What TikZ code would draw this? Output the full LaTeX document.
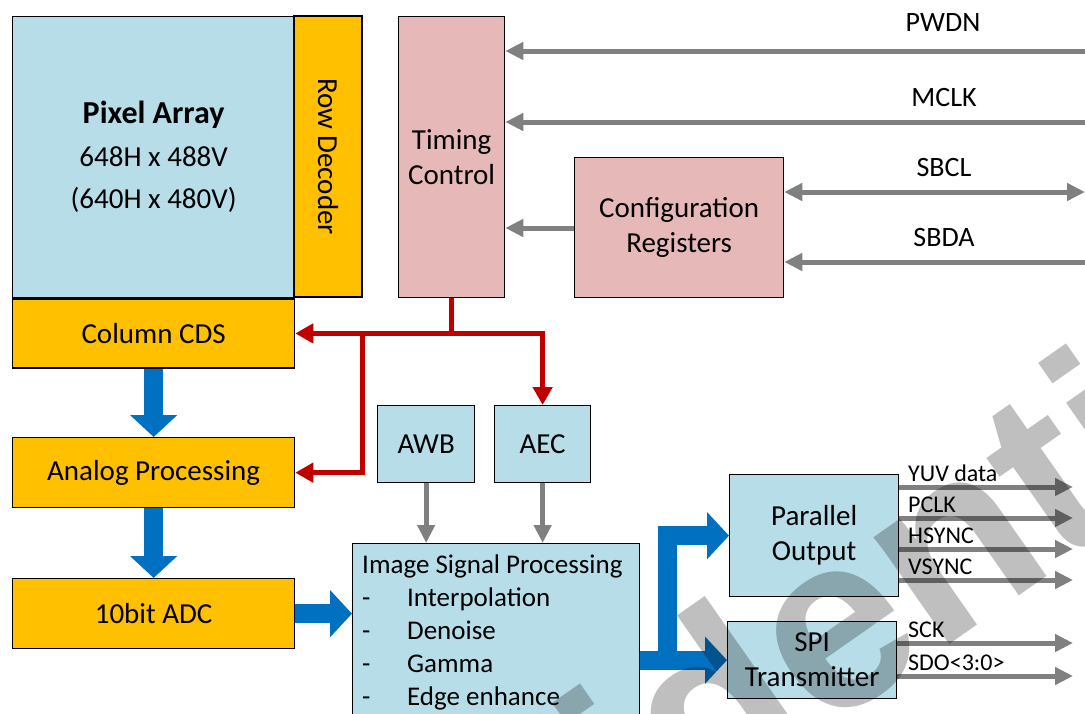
\documentclass[tikz,border=0pt]{standalone}
\usepackage{fontspec}
\setmainfont{Carlito}
\newfontfamily\wmfont{Liberation Sans}
\usetikzlibrary{arrows.meta,positioning}
\definecolor{cellblue}{HTML}{B7DDE8}
\definecolor{cellorange}{HTML}{FFC000}
\definecolor{cellpink}{HTML}{E6B9B8}
\definecolor{ctlred}{HTML}{C00000}
\definecolor{busblue}{HTML}{0070C0}
\definecolor{siggray}{HTML}{808080}
\tikzset{
  gtip/.tip={Triangle[length=18pt,width=17pt]},
  rtip/.tip={Triangle[length=18pt,width=19pt]},
  btip/.tip={Triangle[length=22pt,width=46pt]},
  blk/.style={draw=black, line width=1.3pt, inner sep=0pt, align=center,
    anchor=north west, font=\fontsize{29}{35}\selectfont},
  sig/.style={draw=siggray, line width=5pt, -gtip},
  ctl/.style={draw=ctlred, line width=5pt, -rtip},
  bus/.style={draw=busblue, line width=19pt, -btip},
  hdr/.style={font=\fontsize{28}{32}\selectfont, inner sep=0pt},
  outlbl/.style={font=\fontsize{24}{28}\selectfont, inner sep=0pt, anchor=base west}
}
\begin{document}
\begin{tikzpicture}[x=1pt,y=-1pt]
\useasboundingbox (0,0) rectangle (1085,713);
\clip (0,0) rectangle (1085,713);
% sensor side
\node[blk, fill=cellblue, minimum width=282pt, minimum height=281pt,
  font=\fontsize{29}{42}\selectfont] (pix) at (12,16)
  {{\fontsize{32}{42}\selectfont\textbf{Pixel Array}}\\[1pt]648H x 488V\\(640H x 480V)};
\node[blk, fill=cellorange, anchor=center, rotate=-90, minimum width=281pt,
  minimum height=68pt] (row) at (328,156.5) {Row Decoder};
\node[blk, fill=cellorange, minimum width=282pt, minimum height=69pt] (cds) at (pix.south west) {Column CDS};
\node[blk, fill=cellorange, minimum width=282pt, minimum height=70pt] (ana) at (12,437) {Analog Processing};
\node[blk, fill=cellorange, minimum width=282pt, minimum height=70pt] (adc) at (12,578) {10bit ADC};
% control
\node[blk, fill=cellpink, minimum width=106pt, minimum height=281pt] (tim) at (398,16) {Timing\\Control};
\node[blk, fill=cellpink, minimum width=209pt, minimum height=140pt] (cfg) at (574,157) {Configuration\\Registers};
\node[blk, fill=cellblue, minimum width=97pt, minimum height=77pt] (awb) at (377,405) {AWB};
\node[blk, fill=cellblue, minimum width=96pt, minimum height=77pt] (aec) at (494,405) {AEC};
% processing and outputs
\node[blk, fill=cellblue, minimum width=287pt, minimum height=200pt] (isp) at (352,543) {};
\node[anchor=north west, inner sep=0pt, align=left, font=\fontsize{27}{33}\selectfont]
  (isptxt) at ([shift={(10,12)}]isp.north west)
  {Image Signal Processing\\
   \makebox[45pt][l]{-}Interpolation\\
   \makebox[45pt][l]{-}Denoise\\
   \makebox[45pt][l]{-}Gamma\\
   \makebox[45pt][l]{-}Edge enhance};
\node[blk, fill=cellblue, minimum width=169pt, minimum height=122pt] (par) at (729,474) {Parallel\\Output};
\node[blk, fill=cellblue, minimum width=169pt, minimum height=77pt] (spi) at (727,621) {SPI\\Transmitter};

% pins on the right
\coordinate (pwdn) at (1085,51);
\coordinate (mclk) at (1085,122);
\coordinate (sbcl) at (1085,192);
\coordinate (sbda) at (1085,262);
\draw[sig] (pwdn) -- (tim.east |- pwdn);
\draw[sig] (mclk) -- (tim.east |- mclk);
\draw[sig, gtip-gtip] (cfg.east |- sbcl) -- (sbcl);
\draw[sig] (sbda) -- (cfg.east |- sbda);
\draw[sig] (cfg.west |- 0,228) -- (tim.east |- 0,228);
\node[hdr] (pwdnlbl) at (943,23) {PWDN};
\node[hdr] (mclklbl) at (944,98) {MCLK};
\node[hdr] (sbcllbl) at (944,168) {SBCL};
\node[hdr] (sbdalbl) at (944,238) {SBDA};

% timing distribution
\coordinate (jn) at (row.north |- cds.east);
\draw[ctl] (tim.south) |- (cds.east);
\draw[ctl] (jn) |- (ana.east);
\draw[ctl] (tim.south |- cds.east) -| (aec.north);

% data path
\draw[bus] (cds.south) -- (ana.north);
\draw[bus] (ana.south) -- (adc.north);
\draw[bus] (adc.east) -- (isp.west |- adc.east);
\draw[sig] (awb.south) -- (awb.south |- isp.north);
\draw[sig] (aec.south) -- (aec.south |- isp.north);
\coordinate (split) at (667,659.5);
\draw[bus] (isp.east |- spi.west) -- (spi.west);
\draw[bus] (split) |- (par.west);

\foreach \yy/\txt [count=\i] in {487/YUV data, 518/PCLK, 549/HSYNC, 580/VSYNC} {
  \coordinate (po\i) at (1073,\yy);
  \draw[sig] (par.east |- po\i) -- (po\i);
  \node[outlbl] (pol\i) at (908,{\yy-6}) {\txt};
}
\foreach \yy/\txt [count=\i] in {643/SCK, 676/SDO<3:0>} {
  \coordinate (so\i) at (1073,\yy);
  \draw[sig] (spi.east |- so\i) -- (so\i);
  \node[outlbl] (sol\i) at (908,{\yy-6}) {\txt};
}

% watermark
\node[font=\wmfont\bfseries\fontsize{248}{250}\selectfont, text=black, text opacity=0.25,
  anchor=base west, rotate=35, inner sep=0pt] (wm) at (179,1184) {Confidential};
\end{tikzpicture}
\end{document}
